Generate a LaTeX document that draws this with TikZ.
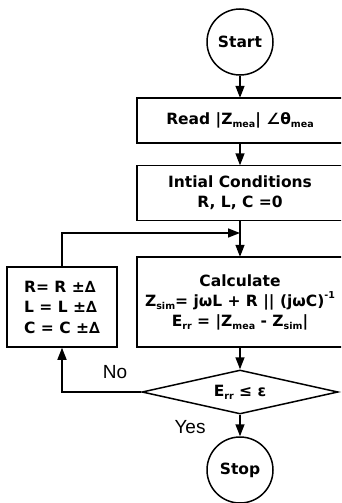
\documentclass[tikz,border=0pt]{standalone}
\usepackage{fontspec}
\setmainfont{DejaVu Sans}
\newfontfamily\labfont{Liberation Sans}
\usetikzlibrary{arrows.meta,shapes.geometric}
\newcommand\lo[1]{\raisebox{-0.35ex}{\fontsize{9.5}{9.5}\selectfont #1}}
\newcommand\hi[1]{\raisebox{0.9ex}{\fontsize{9.5}{9.5}\selectfont #1}}
\tikzset{
  every node/.style={font=\fontsize{15.5}{20}\selectfont\bfseries},
  line/.style={line width=1.5pt, draw=black},
  arr/.style={line, -{Triangle[length=12pt,width=9pt]}},
  procbox/.style={rectangle, minimum width=206pt, inner sep=0pt, align=center},
  openbox/.style={line},
  term/.style={line, circle, minimum size=66pt, inner sep=0pt},
  decision/.style={line, diamond, aspect=4.45, minimum width=196pt, minimum height=44pt, inner sep=0pt},
  lab/.style={font=\labfont\fontsize{19}{19}\selectfont}
}
\begin{document}
\begin{tikzpicture}[x=1pt,y=-1pt]
\useasboundingbox (0,0) rectangle (341,503);
\clip (0,0) rectangle (341,503);
\node[term] (start) at (240,42) {Start};
\node[procbox, minimum height=45pt] (read) at (240,120.5) {Read |Z\lo{mea}| ∠θ\lo{mea}};
\node[procbox, minimum height=55pt] (init) at (240,193) {Intial Conditions\\R, L, C =0};
\node[procbox, minimum height=90pt] (calc) at (240,302) {Calculate\\Z\lo{sim}= jωL + R || (jωC)\hi{-1}\\E\lo{rr} = |Z\lo{mea} - Z\lo{sim}|};
\foreach \b in {read,init,calc}
  \draw[openbox] ([xshift=20pt]\b.north east) -- (\b.north west) -- (\b.south west) -- ([xshift=20pt]\b.south east);
\node[line, rectangle, minimum width=110pt, minimum height=80pt, inner sep=0pt, align=left, font=\fontsize{15.5}{20.5}\selectfont\bfseries] (upd) at (62,307) {R= R ±∆\\L = L ±∆\\C = C ±∆};
\node[decision] (dia) at (240,392) {E\lo{rr} ≤ ε};
\node[term] (stop) at (240,470) {Stop};
\coordinate (j) at (240,233);
\coordinate (tl) at (62,233);
\coordinate (bl) at (62,392);
\node[lab] (no) at (115,372) {No};
\node[lab] (yes) at (190,427) {Yes};
\draw[arr] (start) -- (read);
\draw[arr] (read) -- (init);
\draw[arr] (init) -- (calc);
\draw[arr] (upd.north) -- (tl) -- (j);
\draw[arr] (calc) -- (dia);
\draw[arr] (dia.west) -- (bl) -- (upd.south);
\draw[arr] (dia) -- (stop);
\end{tikzpicture}
\end{document}
